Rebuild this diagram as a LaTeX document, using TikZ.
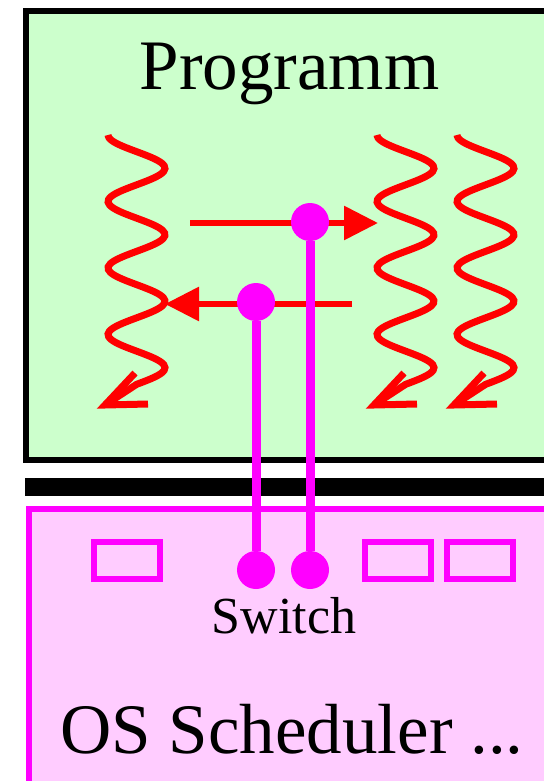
\documentclass[tikz,border=0pt]{standalone}
\usepackage{fontspec}
\setmainfont{Liberation Serif}
\usetikzlibrary{arrows.meta}
\definecolor{progbg}{HTML}{CCFFCC}
\definecolor{schedbg}{HTML}{FFCCFF}
\definecolor{switchpink}{HTML}{FF00FF}
\definecolor{threadred}{HTML}{FF0000}
\tikzset{
  frame/.style={line width=3pt},
  slot/.style={draw=switchpink,line width=3pt,minimum width=33pt,
               minimum height=18.5pt,inner sep=0pt},
  jumpdot/.style={circle,fill=switchpink,minimum size=19pt,inner sep=0pt},
  jumpline/.style={switchpink,line width=4.5pt},
  thread/.style={threadred,line width=3.5pt},
  passarr/.style={threadred,line width=3pt,-{Triangle[length=17pt,width=16.5pt]}},
  bigtext/.style={font=\fontsize{35.5}{40}\selectfont,inner sep=0pt,anchor=base},
  smalltext/.style={font=\fontsize{26}{30}\selectfont,inner sep=0pt,anchor=base}
}
\begin{document}
\begin{tikzpicture}[x=0.5pt,y=-0.5pt]
  \useasboundingbox (0,0) rectangle (544,781);
  \clip (0,0) rectangle (544,781);
  % program and scheduler boxes
  \draw[frame,fill=progbg] (26,11) rectangle (580,460);
  \fill (25,478) rectangle (580,496);
  \draw[frame,draw=switchpink,fill=schedbg] (29,509) rectangle (580,820);
  \node[bigtext] (prog) at (289.5,90) {Programm};
  % threads
  \foreach \xl in {108,377,457} {
    \draw[thread] plot[domain=0:3.75,samples=90,smooth]
      ({\xl+28.5-28.5*cos(\x*360)},{135+66.5*\x}) -- (\xl-3,405);
    \draw[thread] (\xl+27,373) -- (\xl-3,405) -- (\xl+40,404);
  }
  \coordinate (hopAs) at (190,223);
  \coordinate (hopAe) at (378,223);
  \coordinate (hopBs) at (352,304);
  \coordinate (hopBe) at (165,304);
  \draw[passarr] (hopAs) -- (hopAe);
  \draw[passarr] (hopBs) -- (hopBe);
  % switch points
  \node[jumpdot] (jumpB) at (310,222) {};
  \node[jumpdot] (jumpA) at (256,302) {};
  \node[jumpdot] (swA) at (256,570) {};
  \node[jumpdot] (swB) at (310,570) {};
  \draw[jumpline] (jumpA) -- (swA);
  \draw[jumpline] (jumpB) -- (swB);
  % run queue
  \node[slot] (slotA) at (127,560.5) {};
  \node[slot] (slotB) at (398,560.5) {};
  \node[slot] (slotC) at (480,560.5) {};
  \node[smalltext] (switch) at (284,633) {Switch};
  \node[bigtext] (sched) at (292,753) {OS Scheduler ...};
\end{tikzpicture}
\end{document}
